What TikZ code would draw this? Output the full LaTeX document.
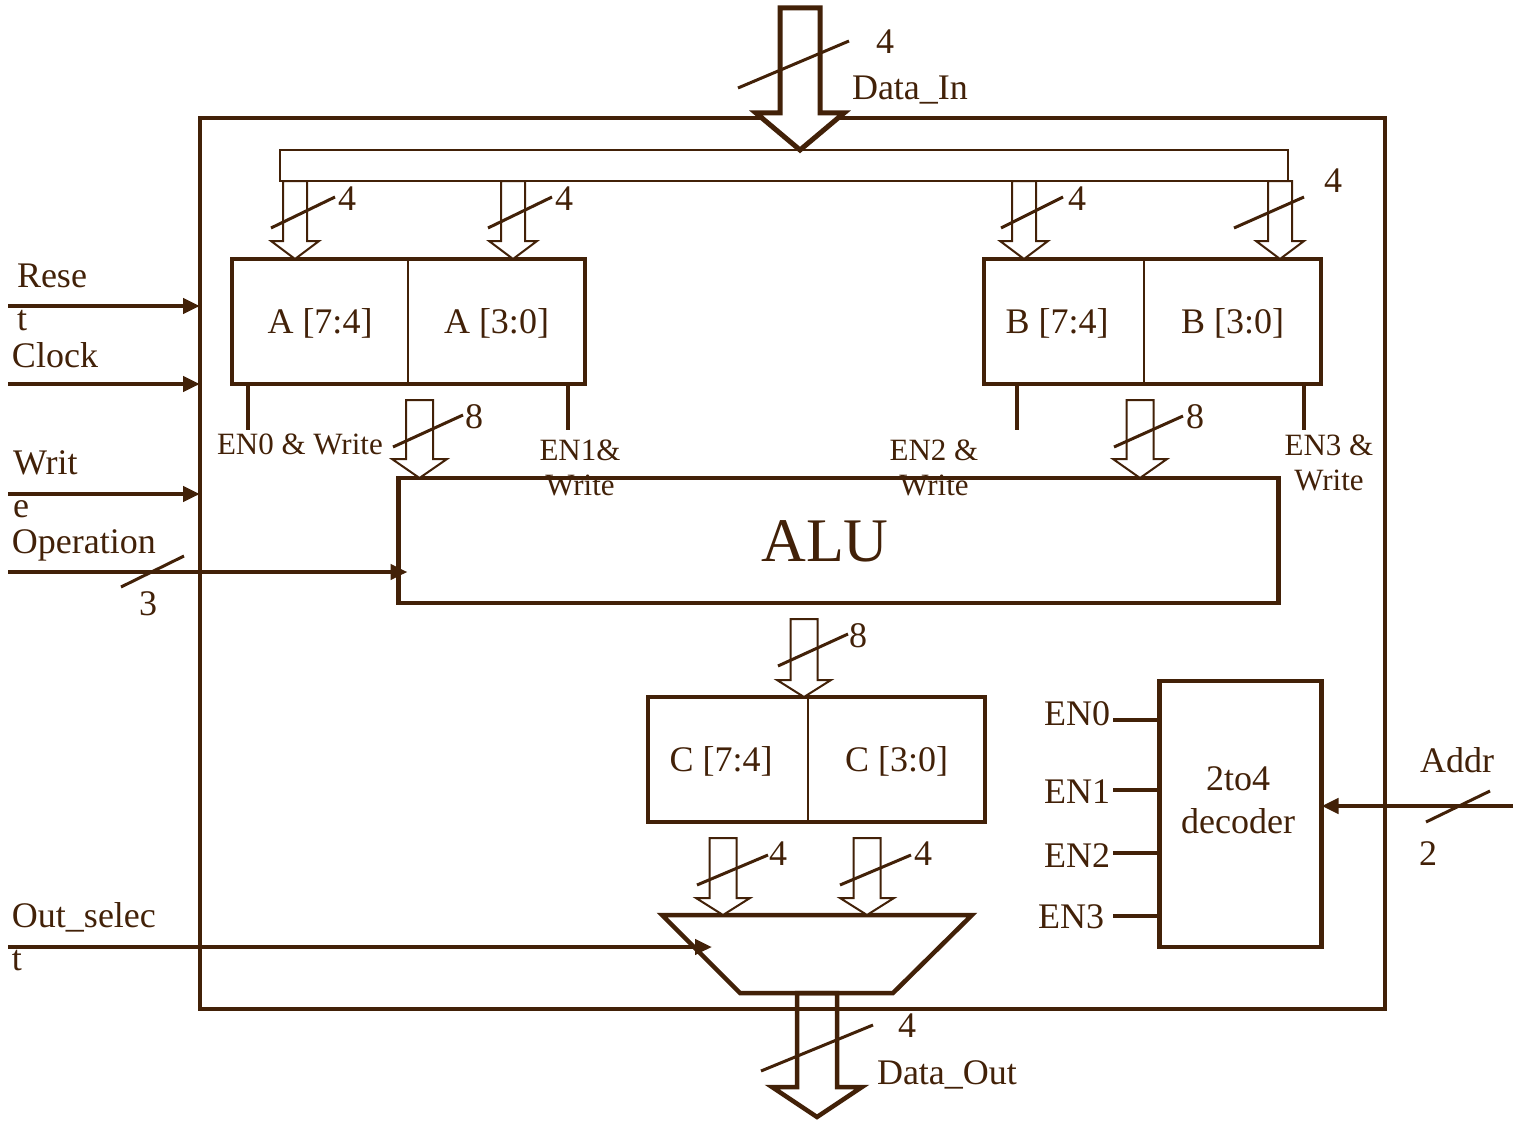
\documentclass[tikz,border=0pt]{standalone}
\usepackage{fontspec}
\setmainfont{Liberation Serif}
\usetikzlibrary{arrows.meta, positioning, calc}
\definecolor{wire}{RGB}{66,33,8}

% hollow bus arrow: style, start, tip, shaft half width, head half width, head length
\newcommand{\busarrow}[6]{%
  \draw[#1] ($(#2)+(-#4,0)$) -- ($(#3)+(-#4,-#6)$) -- ($(#3)+(-#5,-#6)$) -- (#3)
    -- ($(#3)+(#5,-#6)$) -- ($(#3)+(#4,-#6)$) -- ($(#2)+(#4,0)$) -- cycle;}

\begin{document}
\begin{tikzpicture}[x=1pt, y=-1pt, color=wire, line join=miter,
    every node/.style={inner sep=0pt, outer sep=0pt},
    txt/.style={font=\fontsize{36}{43}\selectfont},
    smalltxt/.style={font=\fontsize{31}{35}\selectfont},
    box/.style={draw, line width=4.5pt},
    cell/.style={txt, minimum height=125pt, text depth=0pt},
    divider/.style={line width=2pt},
    heavy/.style={line width=4.5pt},
    sig/.style={line width=4.5pt, -{Triangle[length=17pt, width=15pt]}},
    bus/.style={line width=2pt, fill=white},
    bigbus/.style={line width=5pt, fill=white},
    slash/.style={line width=3pt}]
    \useasboundingbox (0,0) rectangle (1518,1121);

    % chip outline and internal bus
    \node[box, minimum width=1185pt, minimum height=891pt] (chip) at (792.5,563.5) {};
    \node[draw, line width=2pt, minimum width=1008pt, minimum height=31pt] (bus) at (784,165.5) {};

    % Data_In
    \coordinate (din) at (800,8);
    \busarrow{bigbus}{din}{din |- bus.north}{20}{44}{37}
    \draw[slash] (738,88) -- (849,41);
    \node[txt, anchor=base] (ldin4) at (885,54) {4};
    \node[txt, anchor=base west] (ldin) at (852,100) {Data\_In};

    % registers A and B
    \node[cell, minimum width=176pt] (a74) at (320,321.5) {A [7:4]};
    \node[cell, minimum width=177pt, right=0pt of a74] (a30) {A [3:0]};
    \draw[heavy] (a74.north west) rectangle (a30.south east);
    \draw[divider] (a74.north east) -- (a74.south east);

    \node[cell, minimum width=160pt] (b74) at (1064,321.5) {B [7:4]\hspace*{14pt}};
    \node[cell, minimum width=177pt, right=0pt of b74] (b30) {B [3:0]};
    \draw[heavy] (b74.north west) rectangle (b30.south east);
    \draw[divider] (b74.north east) -- (b74.south east);

    % bus to registers
    \coordinate (xa1) at (295,0);
    \coordinate (xa2) at (513,0);
    \coordinate (xb1) at (1024,0);
    \coordinate (xb2) at (1280,0);
    \busarrow{bus}{xa1 |- bus.south}{xa1 |- a74.north}{12}{24}{18}
    \busarrow{bus}{xa2 |- bus.south}{xa2 |- a30.north}{12}{24}{18}
    \busarrow{bus}{xb1 |- bus.south}{xb1 |- b74.north}{12}{24}{18}
    \busarrow{bus}{xb2 |- bus.south}{xb2 |- b30.north}{12}{24}{18}
    \draw[slash] (271,228) -- (335,197);
    \draw[slash] (488,228) -- (552,197);
    \draw[slash] (1001,228) -- (1063,197);
    \draw[slash] (1234,228) -- (1304,197);
    \node[txt, anchor=base] (la1) at (347,210) {4};
    \node[txt, anchor=base] (la2) at (564,210) {4};
    \node[txt, anchor=base] (lb1) at (1077,210) {4};
    \node[txt, anchor=base] (lb2) at (1333,193) {4};

    % ALU
    \node[box, minimum width=880pt, minimum height=125pt] (alu) at (838.5,540.5) {};
    \node[font=\fontsize{62}{70}\selectfont] (lalu) at (825,541.5) {ALU};

    % enables of the registers
    \draw[heavy] ($(a74.south west)+(16,0)$) -- ++(0,46);
    \draw[heavy] ($(a30.south east)+(-17,0)$) -- ++(0,46);
    \draw[heavy] ($(b74.south west)+(33,0)$) -- ++(0,46);
    \draw[heavy] ($(b30.south east)+(-17,0)$) -- ++(0,46);
    \node[smalltxt, anchor=base west] (len0) at (217,454) {EN0 \& Write};
    \node[smalltxt, align=center, anchor=base] (len1) at (580,495) {EN1\&\\Write};
    \node[smalltxt, align=center, anchor=base] (len2) at (934,495) {EN2 \&\\Write};
    \node[smalltxt, align=center, anchor=base] (len3) at (1329,490) {EN3 \&\\Write};

    % registers to ALU
    \coordinate (xa) at (419.5,400);
    \coordinate (xb) at (1140,400);
    \busarrow{bus}{xa}{xa |- alu.north}{13.5}{27.5}{19}
    \busarrow{bus}{xb}{xb |- alu.north}{13.5}{27}{19}
    \draw[slash] (393,447) -- (463,415);
    \draw[slash] (1114,447) -- (1183,416);
    \node[txt, anchor=base] (l8a) at (474,428) {8};
    \node[txt, anchor=base] (l8b) at (1195,428) {8};

    % register C
    \node[cell, minimum width=160pt] (c74) at (728,759.5) {C [7:4]\hspace*{14pt}};
    \node[cell, minimum width=177pt, right=0pt of c74] (c30) {C [3:0]};
    \draw[heavy] (c74.north west) rectangle (c30.south east);
    \draw[divider] (c74.north east) -- (c74.south east);

    \coordinate (xc) at (804,619);
    \busarrow{bus}{xc}{xc |- c74.north}{13.5}{27}{17}
    \draw[slash] (778,666) -- (848,634);
    \node[txt, anchor=base] (l8c) at (858,647) {8};

    % output mux
    \coordinate (mtl) at (662,915);
    \coordinate (mtr) at (972,915);
    \coordinate (mbr) at (893,993);
    \coordinate (mbl) at (740,993);
    \draw[heavy] (mtl) -- (mtr) -- (mbr) -- (mbl) -- cycle;

    \coordinate (xm1) at (723,838);
    \coordinate (xm2) at (867,838);
    \busarrow{bus}{xm1}{xm1 |- mtl}{13.5}{27}{17}
    \busarrow{bus}{xm2}{xm2 |- mtl}{13.5}{27}{17}
    \draw[slash] (697,885) -- (768,855);
    \draw[slash] (840,885) -- (911,855);
    \node[txt, anchor=base] (lm1) at (778,865) {4};
    \node[txt, anchor=base] (lm2) at (923,865) {4};

    % Data_Out
    \coordinate (dout) at (817,993);
    \busarrow{heavy}{dout}{817,1117}{20}{45}{30}
    \draw[slash] (761,1071) -- (873,1025);
    \node[txt, anchor=base] (ldout4) at (907,1037) {4};
    \node[txt, anchor=base west] (ldout) at (877,1084) {Data\_Out};

    % decoder
    \node[box, minimum width=162pt, minimum height=266pt] (dec) at (1240.5,814) {};
    \node[txt, align=center, anchor=base] (ldec) at (1238,833) {2to4\\decoder};
    \coordinate (p0) at (1160,720);
    \coordinate (p1) at (1160,790);
    \coordinate (p2) at (1160,853);
    \coordinate (p3) at (1160,916);
    \draw[heavy] (p0) -- ++(-47,0) node[txt, anchor=base east, xshift=-3pt, yshift=-5pt] {EN0};
    \draw[heavy] (p1) -- ++(-47,0) node[txt, anchor=base east, xshift=-3pt, yshift=-13pt] {EN1};
    \draw[heavy] (p2) -- ++(-47,0) node[txt, anchor=base east, xshift=-3pt, yshift=-14pt] {EN2};
    \draw[heavy] (p3) -- ++(-47,0) node[txt, anchor=base east, xshift=-9pt, yshift=-12pt] {EN3};

    \coordinate (addr) at (1513,806);
    \draw[sig] (addr) -- (addr -| dec.east);
    \draw[slash] (1426,822) -- (1490,791);
    \node[txt, anchor=base west] (laddr) at (1420,772) {Addr};
    \node[txt, anchor=base] (laddr2) at (1428,865) {2};

    % inputs on the left
    \node[txt, align=left, anchor=base west] (lrst) at (17,330) {Rese\\t};
    \coordinate (rst) at (8,306);
    \draw[sig] (rst) -- (rst -| chip.west);
    \node[txt, anchor=base west] (lclk) at (12,367) {Clock};
    \coordinate (clk) at (8,384);
    \draw[sig] (clk) -- (clk -| chip.west);
    \node[txt, align=left, anchor=base west] (lwr) at (13,517) {Writ\\e};
    \coordinate (wr) at (8,494);
    \draw[sig] (wr) -- (wr -| chip.west);
    \node[txt, anchor=base west] (lop) at (12,553) {Operation};
    \coordinate (op) at (8,572);
    \draw[sig, shorten >=-9pt] (op) -- (op -| alu.west);
    \draw[slash] (121,587) -- (184,556);
    \node[txt, anchor=base] (lop3) at (148,615) {3};
    \node[txt, align=left, anchor=base west] (lsel) at (12,970) {Out\_selec\\t};
    \coordinate (sel) at (8,947);
    \coordinate (muxin) at (712,947);
    \draw[sig] (sel) -- (muxin);
\end{tikzpicture}
\end{document}
